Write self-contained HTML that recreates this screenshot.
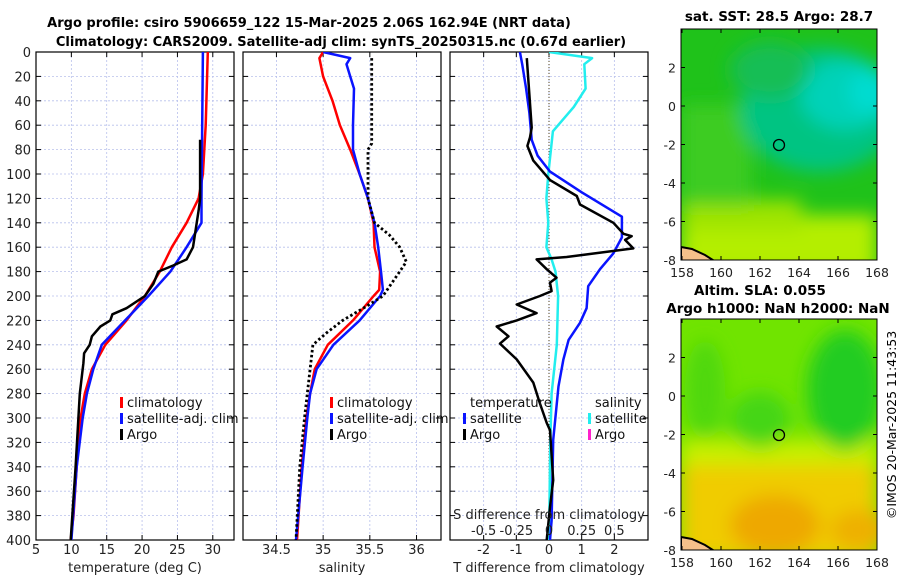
<!DOCTYPE html>
<html><head><meta charset="utf-8">
<style>
html,body{margin:0;padding:0;background:#fff;}
svg{display:block;font-family:"DejaVu Sans","Liberation Sans",sans-serif;}
</style></head>
<body>
<svg id="c" width="900" height="580" viewBox="0 0 900 580" xmlns="http://www.w3.org/2000/svg">
<defs>
<filter id="bl" x="-20%" y="-20%" width="140%" height="140%"><feGaussianBlur stdDeviation="9"/></filter>
<clipPath id="cm1"><rect x="681" y="29" width="196" height="231"/></clipPath>
<clipPath id="cm2"><rect x="681" y="319" width="196" height="231"/></clipPath>
<clipPath id="cp1"><rect x="36" y="52" width="198" height="488"/></clipPath>
<clipPath id="cp2"><rect x="243" y="52" width="198" height="488"/></clipPath>
<clipPath id="cp3"><rect x="450" y="52" width="198" height="488"/></clipPath>
</defs>
<g font-weight="bold" font-size="13" text-anchor="middle">
<text x="309" y="27">Argo profile: csiro 5906659_122 15-Mar-2025 2.06S 162.94E (NRT data)</text>
<text x="341" y="46">Climatology: CARS2009. Satellite-adj clim: synTS_20250315.nc (0.67d earlier)</text>
</g>
<g id="panels"></g>

<!-- SST map -->
<g>
<text x="779" y="21" font-size="13.5" font-weight="bold" text-anchor="middle">sat. SST: 28.5 Argo: 28.7</text>
<g clip-path="url(#cm1)">
<rect x="681" y="29" width="196" height="231" fill="#1fc21a"/>
<g filter="url(#bl)">
<rect x="681" y="215" width="196" height="60" fill="#b4ee00"/>
<rect x="681" y="200" width="120" height="30" fill="#9ee400"/>
<rect x="681" y="105" width="70" height="100" fill="#3ccc20"/>
<ellipse cx="820" cy="110" rx="80" ry="62" fill="#05c482"/>
<ellipse cx="845" cy="95" rx="45" ry="35" fill="#00d2b8"/>
<ellipse cx="870" cy="92" rx="22" ry="22" fill="#00dcd0"/>
<ellipse cx="770" cy="70" rx="40" ry="28" fill="#12be55"/>
</g>
<path d="M681,247 L692,249 L705,255 L716,262 L681,262 Z" fill="#f5c08a" stroke="#000" stroke-width="2"/>
</g>
<rect x="681" y="29" width="196" height="231" fill="none" stroke="#000" stroke-width="1"/>
<circle cx="779" cy="145" r="5.5" fill="none" stroke="#000" stroke-width="1.3"/>
<g id="m1t"></g>
</g>

<!-- SLA map -->
<g>
<text x="760" y="295" font-size="13.5" font-weight="bold" text-anchor="middle">Altim. SLA: 0.055</text>
<text x="778" y="313" font-size="13.5" font-weight="bold" text-anchor="middle">Argo h1000: NaN h2000: NaN</text>
<g clip-path="url(#cm2)">
<rect x="681" y="319" width="196" height="231" fill="#70e400"/>
<g filter="url(#bl)">
<rect x="681" y="440" width="196" height="30" fill="#c8f000"/>
<rect x="681" y="465" width="196" height="95" fill="#f0cc00"/>
<ellipse cx="775" cy="525" rx="45" ry="30" fill="#eea800"/>
<ellipse cx="860" cy="530" rx="30" ry="20" fill="#eeb000"/>
<ellipse cx="845" cy="390" rx="38" ry="60" fill="#20cc20"/>
<ellipse cx="760" cy="420" rx="30" ry="28" fill="#44d612"/>
<ellipse cx="705" cy="390" rx="20" ry="50" fill="#50d810"/>
</g>
<path d="M681,537 L692,539 L705,545 L716,552 L681,552 Z" fill="#f5c08a" stroke="#000" stroke-width="2"/>
</g>
<rect x="681" y="319" width="196" height="231" fill="none" stroke="#000" stroke-width="1"/>
<circle cx="779" cy="435" r="5.5" fill="none" stroke="#000" stroke-width="1.3"/>
<g id="m2t"></g>
</g>
<text transform="translate(896,425) rotate(-90)" font-size="12.5" text-anchor="middle">©IMOS 20-Mar-2025 11:43:53</text>
</svg>
<script>
// ---------- data ----------
const depthTicks=[0,20,40,60,80,100,120,140,160,180,200,220,240,260,280,300,320,340,360,380,400];
const tempTicks=[5,10,15,20,25,30];
const salTicks=[34.5,35,35.5,36];
const tdiffTicks=[-2,-1,0,1,2];
const sdiffTicks=[-0.5,-0.25,0,0.25,0.5];
const sdiffTickLabels=["-0.5","-0.25","0","0.25","0.5"];

const climTdep=[0,60,100,120,140,160,180,200,220,240,260,280,300,340,380,400];
const climT=[29.3,29.0,28.6,28.0,26.3,24.2,22.5,20.4,17.8,14.8,12.9,11.9,11.3,10.75,10.3,9.9];
const satTdep=[0,120,140,160,180,200,220,240,260,280,300,340,400];
const satT=[28.6,28.4,28.4,26.3,24.0,20.9,17.6,14.3,13.1,12.2,11.6,10.75,10.0];
const argoTdep=[72,120,130,160,170,175,180,190,200,210,215,220,225,233,240,247,255,280,300,340,400];
const argoT=[28.2,28.2,28.0,27.2,26.3,24.4,22.3,21.6,20.4,17.8,15.8,15.5,14.1,12.9,12.6,11.8,11.7,11.2,11.0,10.6,9.9];

const climSdep=[0,5,20,40,60,80,100,120,140,160,180,195,200,220,240,260,280,300,340,400];
const climS=[35.0,34.96,35.0,35.1,35.18,35.29,35.39,35.48,35.54,35.55,35.61,35.6,35.54,35.32,35.05,34.91,34.86,34.82,34.77,34.72];
const satSdep=[0,5,10,20,30,60,80,100,120,140,160,180,195,200,220,240,260,280,300,340,400];
const satS=[35.0,35.29,35.25,35.29,35.33,35.32,35.32,35.39,35.48,35.55,35.59,35.62,35.64,35.61,35.39,35.11,34.93,34.86,34.83,34.78,34.71];
const argoSdep=[5,75,80,100,120,140,150,160,172,180,200,210,220,230,240,260,300,340,400];
const argoS=[35.52,35.52,35.48,35.48,35.48,35.55,35.71,35.82,35.89,35.82,35.64,35.43,35.21,35.04,34.89,34.86,34.80,34.75,34.71];

const dTsatDep=[0,10,30,50,72,85,98,115,135,152,165,178,192,210,222,236,252,274,318,384,400];
const dTsat=[-0.89,-0.82,-0.7,-0.6,-0.53,-0.35,0.03,1.0,2.23,2.23,1.97,1.56,1.2,1.15,0.95,0.6,0.44,0.29,0.13,0.08,0.03];
const dTargoDep=[5,62,70,77,89,105,118,125,140,149,151,154,161,168,170,178,185,189,196,200,207,214,220,225,233,239,252,271,288,304,310,351,373,400];
const dTargo=[-0.68,-0.53,-0.58,-0.66,-0.48,0.03,0.85,0.95,1.97,2.28,2.53,2.33,2.58,0.54,-0.38,-0.07,0.23,0.03,0.08,-0.28,-0.99,-0.38,-0.99,-1.6,-1.24,-1.5,-0.99,-0.48,-0.28,-0.07,0.03,0.13,0.03,-0.07];
const dSsatDep=[0,5,10,30,45,65,100,120,140,160,170,180,200,240,280,320,400];
const dSsat=[0,0.33,0.27,0.28,0.19,0.03,-0.005,-0.02,-0.005,-0.02,0.02,0.05,0.07,0.06,0.02,0.01,0];

const latTicks=[2,0,-2,-4,-6,-8];
const lonTicks=[158,160,162,164,166,168];

// ---------- drawing ----------
const NS='http://www.w3.org/2000/svg';
const svg=document.getElementById('c');
const panelsG=document.getElementById('panels');
function mk(tag,attrs,parent){const e=document.createElementNS(NS,tag);for(const k in attrs)e.setAttribute(k,attrs[k]);(parent||svg).appendChild(e);return e;}
const Y0=52,Y1=540;
function yD(d){return Y0+(d/400)*(Y1-Y0);}
function lin(d0,d1,r0,r1){return v=>r0+(v-d0)/(d1-d0)*(r1-r0);}

function panel(x0,x1,xs,xticks,xlabels,name,showY){
  const g=mk('g',{},panelsG);
  
  
  depthTicks.forEach(d=>{
    const gl=mk('line',{x1:x0,x2:x1,y1:yD(d),y2:yD(d),stroke:'#b8c0ec','stroke-width':0.8,'stroke-dasharray':'2,2'},g);
    
    
    mk('line',{x1:x0,x2:x0+5,y1:yD(d),y2:yD(d),stroke:'#000'},g);
    mk('line',{x1:x1-5,x2:x1,y1:yD(d),y2:yD(d),stroke:'#000'},g);
    if(showY){const t=mk('text',{x:x0-5,y:yD(d)+5,'font-size':13,'text-anchor':'end',fill:'#222'},g);t.textContent=d;
      
      }
  });
  xticks.forEach((v,i)=>{
    const x=xs(v);
    mk('line',{x1:x,x2:x,y1:Y0,y2:Y1,stroke:'#b8c0ec','stroke-width':0.8,'stroke-dasharray':'2,2'},g);
    mk('line',{x1:x,x2:x,y1:Y1-5,y2:Y1,stroke:'#000'},g);
    mk('line',{x1:x,x2:x,y1:Y0,y2:Y0+5,stroke:'#000'},g);
    const t=mk('text',{x:x,y:554,'font-size':13,'text-anchor':'middle',fill:'#222'},g);t.textContent=xlabels[i];
    
    
  });
  mk('rect',{x:x0,y:Y0,width:x1-x0,height:Y1-Y0,fill:'none',stroke:'#000','stroke-width':1.2},g);
  return g;
}
function series(g,clip,xs,deps,vals,color,w,dash,name){
  let d='';deps.forEach((dp,i)=>{d+=(i?'L':'M')+xs(vals[i]).toFixed(1)+','+yD(dp).toFixed(1);});
  const a={d:d,fill:'none',stroke:color,'stroke-width':w,'stroke-linejoin':'round','clip-path':'url(#'+clip+')'};
  if(dash)a['stroke-dasharray']=dash;
  const p=mk('path',a,g);
  
  
}
function legend(g,x,y,items){
  items.forEach((it,i)=>{
    const yy=y+i*16;
    if(it[1])mk('rect',{x:x,y:yy-10,width:3,height:11,fill:it[1]},g);
    const t=mk('text',{x:x+7,y:yy,'font-size':13,fill:'#111'},g);t.textContent=it[0];
    
    
  });
}
function axTitle(x,y,s,name){const t=mk('text',{x:x,y:y,'font-size':13,'text-anchor':'middle',fill:'#222'});t.textContent=s;
  
  }

// panel 1: temperature
const xT=lin(5,33,36,234);
const g1=panel(36,234,xT,tempTicks,tempTicks,'temperature-panel',true);
series(g1,'cp1',xT,climTdep,climT,'#ff0000',2.5,null,'temperature-climatology-line');
series(g1,'cp1',xT,satTdep,satT,'#0a14ff',2.5,null,'temperature-satellite-line');
series(g1,'cp1',xT,argoTdep,argoT,'#000',2.5,null,'temperature-argo-line');
legend(g1,120,407,[['climatology','#ff0000'],['satellite-adj. clim','#0a14ff'],['Argo','#000']]);
axTitle(135,572,'temperature (deg C)','temperature-axis-title');

// panel 2: salinity
const xS=lin(34.142,36.262,243,441);
const g2=panel(243,441,xS,salTicks,salTicks,'salinity-panel',false);
series(g2,'cp2',xS,climSdep,climS,'#ff0000',2.5,null,'salinity-climatology-line');
series(g2,'cp2',xS,satSdep,satS,'#0a14ff',2.5,null,'salinity-satellite-line');
series(g2,'cp2',xS,argoSdep,argoS,'#000',2.8,'2.5,2.5','salinity-argo-line');
legend(g2,330,407,[['climatology','#ff0000'],['satellite-adj. clim','#0a14ff'],['Argo','#000']]);
axTitle(342,572,'salinity','salinity-axis-title');

// panel 3: differences
const xD=lin(-3.03,3.03,450,648);
const xSD=lin(-0.7575,0.7575,450,648);
const g3=panel(450,648,xD,tdiffTicks,tdiffTicks,'difference-panel',false);
mk('line',{x1:xD(0),x2:xD(0),y1:Y0,y2:Y1,stroke:'#554422','stroke-width':1,'stroke-dasharray':'1,2'},g3);
series(g3,'cp3',xSD,dSsatDep,dSsat,'#22eeee',2.5,null,'salinity-diff-satellite-line');
series(g3,'cp3',xD,dTsatDep,dTsat,'#0a14ff',2.5,null,'temperature-diff-satellite-line');
series(g3,'cp3',xD,dTargoDep,dTargo,'#000',2.5,null,'temperature-diff-argo-line');
legend(g3,463,407,[['temperature',null],['satellite','#0a14ff'],['Argo','#000']]);
legend(g3,588,407,[['salinity',null],['satellite','#22eeee'],['Argo','#ff22cc']]);
axTitle(549,519,'S difference from climatology','s-diff-axis-title');
sdiffTicks.forEach((v,i)=>{const t=mk('text',{x:xSD(v),y:535,'font-size':13,'text-anchor':'middle',fill:'#222'},g3);t.textContent=sdiffTickLabels[i];
  
  });
axTitle(549,572,'T difference from climatology','t-diff-axis-title');

// map ticks
function mapTicks(gid,top,bot){
  const g=document.getElementById(gid);
  const yl=lin(2,-8,top+ (bot-top)*0.1667,bot);
  const xl=lin(158,168,682,877);
  latTicks.forEach(v=>{const y=yl(v);
    mk('line',{x1:681,x2:685,y1:y,y2:y,stroke:'#000'},g);mk('line',{x1:873,x2:877,y1:y,y2:y,stroke:'#000'},g);
    const t=mk('text',{x:676,y:y+5,'font-size':12.5,'text-anchor':'end',fill:'#222'},g);t.textContent=v;
    
    });
  lonTicks.forEach(v=>{const x=xl(v);
    mk('line',{x1:x,x2:x,y1:bot-4,y2:bot,stroke:'#000'},g);mk('line',{x1:x,x2:x,y1:top,y2:top+4,stroke:'#000'},g);
    const t=mk('text',{x:x,y:bot+17,'font-size':12.5,'text-anchor':'middle',fill:'#222'},g);t.textContent=v;
    
    });
}
mapTicks('m1t',29,260);
mapTicks('m2t',319,550);
</script>
</body></html>
